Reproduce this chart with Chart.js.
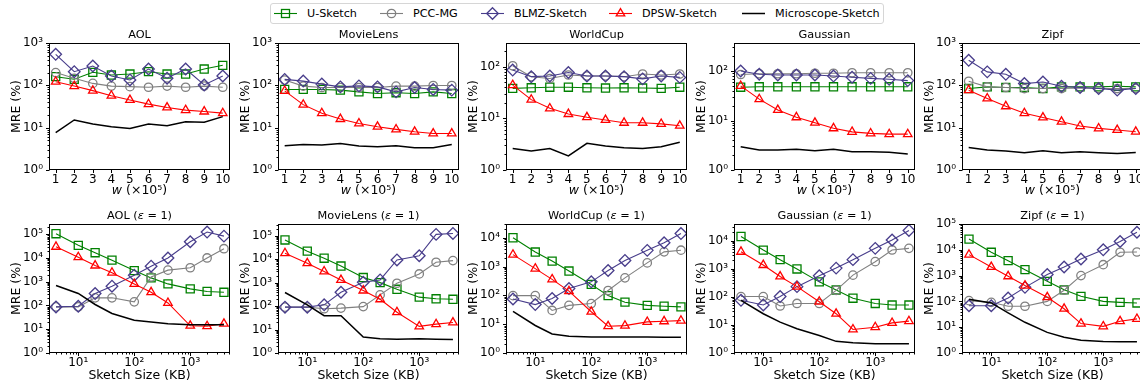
<!DOCTYPE html>
<html>
<head>
<meta charset="utf-8">
<title>MRE vs w and sketch size</title>
<script src="https://cdn.jsdelivr.net/npm/chart.js@4.4.1/dist/chart.umd.min.js"></script>
<style>
  html, body { margin: 0; padding: 0; background: #fff; }
  body { width: 1140px; height: 387px; overflow: hidden; position: relative; font-family: "DejaVu Sans", sans-serif; }
  .panel { position: absolute; }
  #legend { position: absolute; left: 270px; top: 3px; width: 614px; height: 21px; border: 1px solid #d6d6d6; border-radius: 3px; box-sizing: border-box; }
  .lg-item { position: absolute; top: 1px; height: 17px; display: flex; align-items: center; font-size: 11.2px; color: #000; white-space: nowrap; }
</style>
</head>
<body>
<div id="legend"></div>
<script>
// ---- data ----
const wValues  = [1, 2, 3, 4, 5, 6, 7, 8, 9, 10];                       // w (x10^5)
const sketchKB = [4, 10, 20, 40, 100, 200, 400, 1000, 2000, 4000];      // Sketch Size (KB)
const methodNames = ['U-Sketch', 'PCC-MG', 'BLMZ-Sketch', 'DPSW-Sketch', 'Microscope-Sketch'];

// top row: MRE (%) vs w
const aolW_U    = [160, 139, 203, 175, 185, 210, 185, 185, 243, 297];
const aolW_PCC  = [200, 147, 111, 96, 93, 90, 96, 90, 96, 90];
const aolW_BLMZ = [540, 210, 286, 166, 134, 243, 147, 243, 102, 166];
const aolW_DPSW = [122, 96, 75, 57, 45, 36, 30, 26, 24, 22];
const aolW_MS   = [7.6, 15.2, 12.2, 10.5, 9.6, 12.2, 11.1, 13.8, 13.4, 18.2];

const movW_U    = [80, 80, 80, 77, 70, 64, 67, 64, 70, 64];
const movW_PCC  = [133, 96, 89, 89, 89, 89, 96, 96, 99, 99];
const movW_BLMZ = [138, 126, 107, 92, 97, 92, 70, 89, 80, 77];
const movW_DPSW = [74, 35, 22, 16, 12.6, 10.5, 9.1, 8.0, 7.3, 7.3];
const movW_MS   = [3.75, 4.0, 3.9, 4.25, 3.7, 3.55, 3.75, 3.37, 3.37, 4.0];

const wcW_U     = [38, 39, 40, 40, 39, 38.6, 39, 38.6, 38, 40];
const wcW_PCC   = [104, 64, 59, 69, 66, 66, 64, 72, 69, 72];
const wcW_BLMZ  = [86, 64, 66, 77, 66, 66, 64, 58, 66, 62];
const wcW_DPSW  = [44, 23, 15.6, 12.1, 10.5, 9.3, 8.2, 8.2, 7.8, 7.2];
const wcW_MS    = [2.6, 2.33, 2.6, 1.87, 3.28, 2.9, 2.7, 2.6, 2.83, 3.43];

const gauW_U    = [47, 48, 48, 48, 48, 48, 48, 48, 48, 48];
const gauW_PCC  = [85, 88, 88, 88, 90, 90, 92, 92, 92, 92];
const gauW_BLMZ = [100, 86, 83, 83, 83, 79, 75, 71, 68, 64];
const gauW_DPSW = [50, 27, 16.3, 11.6, 9.0, 6.95, 5.9, 5.5, 5.3, 5.3];
const gauW_MS   = [2.96, 2.54, 2.54, 2.62, 2.45, 2.62, 2.34, 2.34, 2.28, 2.1];

const zipfW_U    = [84, 92, 89, 89, 84, 92, 92, 92, 95, 92];
const zipfW_PCC  = [125, 92, 89, 84, 84, 84, 87, 84, 84, 84];
const zipfW_BLMZ = [390, 208, 182, 110, 120, 95, 89, 84, 77, 84];
const zipfW_DPSW = [77, 49, 32, 22, 17.4, 13.8, 10.9, 9.6, 8.8, 8.0];
const zipfW_MS   = [3.4, 2.96, 2.8, 2.56, 2.86, 2.56, 2.7, 2.56, 2.47, 2.6];

// bottom row: MRE (%) vs sketch size, eps = 1
const aolS_U    = [105000, 34000, 16600, 8100, 2950, 1450, 810, 500, 390, 360];
const aolS_PCC  = [87, 87, 210, 210, 142, 1600, 3070, 3880, 10000, 24500];
const aolS_BLMZ = [87, 93, 318, 650, 1880, 4500, 10000, 48000, 123000, 83000];
const aolS_DPSW = [29500, 10800, 4800, 2400, 810, 360, 128, 14, 13.5, 17];
const aolS_MS   = [690, 320, 110, 46, 24, 20, 17, 15.5, 15.5, 15.5];

const movS_U    = [66000, 22000, 11000, 5100, 1650, 1000, 520, 240, 205, 195];
const movS_PCC  = [90, 90, 77, 82, 95, 300, 940, 2350, 7400, 8700];
const movS_BLMZ = [90, 90, 113, 390, 1040, 1300, 9300, 14000, 114000, 125000];
const movS_DPSW = [18000, 6700, 3000, 1300, 460, 195, 55, 13.6, 17, 20];
const movS_MS   = [380, 113, 39, 39, 4.8, 4.1, 3.9, 4.1, 3.9, 3.8];

const wcS_U     = [10000, 3200, 1550, 700, 240, 98, 58, 45, 42, 40];
const wcS_PCC   = [98, 98, 30, 45, 52, 147, 405, 1340, 3240, 3700];
const wcS_BLMZ  = [75, 48, 78, 173, 295, 730, 1630, 3650, 6700, 14000];
const wcS_DPSW  = [2600, 850, 360, 140, 27, 8.5, 8.9, 12, 12.6, 13.3];
const wcS_MS    = [28, 9, 4.6, 3.8, 3.6, 3.6, 3.6, 3.6, 3.5, 3.5];

const gauS_U    = [14000, 4600, 2100, 980, 340, 175, 89, 58, 51, 51];
const gauS_PCC  = [102, 102, 47, 58, 58, 170, 590, 1780, 4650, 5300];
const gauS_BLMZ = [75, 51, 102, 230, 560, 1050, 2100, 5300, 10500, 23000];
const gauS_DPSW = [4000, 1350, 530, 230, 67, 25, 6.9, 8.3, 11.8, 13.6];
const gauS_MS   = [75, 25, 12.5, 7.3, 4.2, 2.6, 2.3, 2.15, 2.15, 2.15];

const zipfS_U    = [26000, 8000, 3800, 1700, 600, 280, 157, 100, 92, 87];
const zipfS_PCC  = [107, 92, 65, 65, 100, 270, 1000, 2650, 8000, 8200];
const zipfS_BLMZ = [68, 68, 135, 350, 1100, 2150, 4400, 10000, 21000, 48000];
const zipfS_DPSW = [6500, 2150, 940, 410, 145, 52, 13.8, 10.8, 17, 21];
const zipfS_MS   = [120, 87, 36, 15.5, 6.3, 4.1, 3.1, 2.8, 2.7, 2.7];

// axis upper limits (y) per panel
const yMaxTop    = [1000, 1000, 287, 368, 1000];
const yMaxBottom = [269000, 316000, 30000, 39000, 100000];

// ---- styles ----
const FONT = '"DejaVu Sans"';
const STYLE = [
  { color: 'green',   point: 'rect',     r: 5.7, lw: 1.1 },
  { color: 'gray',    point: 'circle',   r: 4.2, lw: 1.1 },
  { color: '#483d8b', point: 'rectRot',  r: 5.8, lw: 1.1 },
  { color: 'red',     point: 'triangle', r: 4.9, lw: 1.1 },
  { color: 'black',   point: false,      r: 0,   lw: 1.5 }
];

// layout (px)
const PLOT_LEFT = [49, 278, 506, 734, 962];
const PLOT_W = 181;
const Y_W = 48, PAD_T = 16, PAD_R = 12;
const ROWS = [
  { top: 43,  h: 127, xH: 30, xTitleOff: 21 },
  { top: 224, h: 129, xH: 32, xTitleOff: 23 }
];

Chart.defaults.font.family = FONT;
Chart.defaults.color = '#000';

const SUP = { '0': '\u2070', '1': '\u00b9', '2': '\u00b2', '3': '\u00b3', '4': '\u2074', '5': '\u2075', '-': '\u207b' };
const pow10Label = v => '10' + String(Math.round(Math.log10(v))).split('').map(c => SUP[c]).join('');

function decadeTicks(s) {
  const out = [];
  for (let e = Math.ceil(Math.log10(s.min) - 1e-9); Math.pow(10, e) <= s.max * 1.0001; e++) out.push({ value: Math.pow(10, e) });
  s.ticks = out;
}
function logTickMarks(min, max) {
  const out = [];
  for (let e = Math.floor(Math.log10(min)); e <= Math.ceil(Math.log10(max)); e++) {
    for (let k = 1; k <= 9; k++) {
      const v = k * Math.pow(10, e);
      if (v >= min * 0.9999 && v <= max * 1.0001) out.push({ v, len: k === 1 ? 3.5 : 2 });
    }
  }
  return out;
}

function drawRich(ctx, segs, cx, cy, size) {
  const fonts = segs.map(([, it]) => `${it ? 'italic ' : ''}${size}px ${FONT}`);
  const widths = segs.map(([t], i) => { ctx.font = fonts[i]; return ctx.measureText(t).width; });
  let x = cx - widths.reduce((a, b) => a + b, 0) / 2;
  ctx.textBaseline = 'middle'; ctx.textAlign = 'left'; ctx.fillStyle = '#000';
  segs.forEach(([t], i) => { ctx.font = fonts[i]; ctx.fillText(t, x, cy); x += widths[i]; });
}

// frame, outward ticks, panel title and x-axis title
const panelDeco = {
  id: 'panelDeco',
  afterDraw(chart, args, opts) {
    const { ctx, chartArea: a, scales: { x, y } } = chart;
    const L = Math.round(a.left) + 0.5, R = Math.round(a.right) - 0.5;
    const T = Math.round(a.top) + 0.5, B = Math.round(a.bottom) - 0.5;
    ctx.save();
    ctx.strokeStyle = '#000'; ctx.lineWidth = 1;
    ctx.strokeRect(L, T, R - L, B - T);
    ctx.beginPath();
    logTickMarks(y.min, y.max).forEach(t => {
      const py = Math.round(y.getPixelForValue(t.v)) + 0.5;
      ctx.moveTo(L - t.len, py); ctx.lineTo(L, py);
    });
    const xMarks = x.type === 'logarithmic' ? logTickMarks(x.min, x.max) : wValues.map(v => ({ v, len: 3.5 }));
    xMarks.forEach(t => {
      const px = Math.round(x.getPixelForValue(t.v)) + 0.5;
      ctx.moveTo(px, B); ctx.lineTo(px, B + t.len);
    });
    ctx.stroke();
    const cx = (a.left + a.right) / 2;
    drawRich(ctx, opts.title, cx, a.top - 8, 11.3);
    drawRich(ctx, opts.xTitle, cx, a.bottom + opts.xTitleOff, 12.5);
    ctx.restore();
  }
};

function mkPanel(rowIdx, col, title, xs, series, yMax) {
  const row = ROWS[rowIdx];
  const div = document.createElement('div');
  div.className = 'panel';
  div.style.left = (PLOT_LEFT[col] - Y_W) + 'px';
  div.style.top = (row.top - PAD_T) + 'px';
  const cv = document.createElement('canvas');
  cv.width = Y_W + PLOT_W + PAD_R;
  cv.height = PAD_T + row.h + row.xH;
  div.appendChild(cv);
  document.body.appendChild(div);

  const tickFont = { family: FONT, size: 12 };
  const isTop = rowIdx === 0;
  const xScale = isTop
    ? { type: 'linear', min: 0.64, max: 10.39,
        afterBuildTicks: s => { s.ticks = wValues.map(v => ({ value: v })); },
        ticks: { padding: 3, font: tickFont, color: '#000', maxRotation: 0, autoSkip: false, callback: v => String(v) } }
    : { type: 'logarithmic', min: 3.0, max: 5130,
        afterBuildTicks: decadeTicks,
        ticks: { padding: 3, font: tickFont, color: '#000', maxRotation: 0, autoSkip: false, callback: pow10Label } };
  xScale.afterFit = s => { s.height = row.xH; };
  xScale.grid = { display: false, drawTicks: false };
  xScale.border = { display: false };

  const datasets = series.map((vals, i) => ({
    label: methodNames[i],
    data: xs.map((xv, j) => ({ x: xv, y: vals[j] })),
    borderColor: STYLE[i].color,
    borderWidth: STYLE[i].lw,
    pointStyle: STYLE[i].point,
    pointRadius: STYLE[i].r,
    pointBorderColor: STYLE[i].color,
    pointBackgroundColor: 'rgba(0,0,0,0)',
    pointBorderWidth: 1.3,
    tension: 0,
    order: 5 - i
  }));

  return new Chart(cv.getContext('2d'), {
    type: 'line',
    data: { datasets },
    options: {
      responsive: false, animation: false, devicePixelRatio: 1,
      layout: { padding: { top: PAD_T, right: PAD_R, left: 0, bottom: 0 } },
      plugins: {
        legend: { display: false }, tooltip: { enabled: false },
        panelDeco: {
          title,
          xTitle: isTop ? [['w', true], [' (\u00d710\u2075)', false]] : [['Sketch Size (KB)', false]],
          xTitleOff: row.xTitleOff
        }
      },
      scales: {
        x: xScale,
        y: {
          type: 'logarithmic', min: 1, max: yMax,
          afterBuildTicks: decadeTicks,
          afterFit: s => { s.width = Y_W; },
          grid: { display: false, drawTicks: false }, border: { display: false },
          ticks: { padding: 6, font: tickFont, color: '#000', autoSkip: false, callback: pow10Label },
          title: { display: true, text: 'MRE (%)', color: '#000', font: { family: FONT, size: 12.5 }, padding: { top: 8, bottom: 0 } }
        }
      }
    },
    plugins: [panelDeco]
  });
}

const eps = name => [[name + ' (', false], ['\u03b5', true], [' = 1)', false]];

mkPanel(0, 0, [['AOL', false]],       wValues, [aolW_U, aolW_PCC, aolW_BLMZ, aolW_DPSW, aolW_MS], yMaxTop[0]);
mkPanel(0, 1, [['MovieLens', false]], wValues, [movW_U, movW_PCC, movW_BLMZ, movW_DPSW, movW_MS], yMaxTop[1]);
mkPanel(0, 2, [['WorldCup', false]],  wValues, [wcW_U, wcW_PCC, wcW_BLMZ, wcW_DPSW, wcW_MS], yMaxTop[2]);
mkPanel(0, 3, [['Gaussian', false]],  wValues, [gauW_U, gauW_PCC, gauW_BLMZ, gauW_DPSW, gauW_MS], yMaxTop[3]);
mkPanel(0, 4, [['Zipf', false]],      wValues, [zipfW_U, zipfW_PCC, zipfW_BLMZ, zipfW_DPSW, zipfW_MS], yMaxTop[4]);

mkPanel(1, 0, eps('AOL'),       sketchKB, [aolS_U, aolS_PCC, aolS_BLMZ, aolS_DPSW, aolS_MS], yMaxBottom[0]);
mkPanel(1, 1, eps('MovieLens'), sketchKB, [movS_U, movS_PCC, movS_BLMZ, movS_DPSW, movS_MS], yMaxBottom[1]);
mkPanel(1, 2, eps('WorldCup'),  sketchKB, [wcS_U, wcS_PCC, wcS_BLMZ, wcS_DPSW, wcS_MS], yMaxBottom[2]);
mkPanel(1, 3, eps('Gaussian'),  sketchKB, [gauS_U, gauS_PCC, gauS_BLMZ, gauS_DPSW, gauS_MS], yMaxBottom[3]);
mkPanel(1, 4, eps('Zipf'),      sketchKB, [zipfS_U, zipfS_PCC, zipfS_BLMZ, zipfS_DPSW, zipfS_MS], yMaxBottom[4]);

// ---- shared legend ----
const LG_LINE_X = [274, 380, 481, 609, 742];
function legendIcon(st) {
  const c = st.color, cx = 11.5, cy = 8.5;
  let m = '';
  if (st.point === 'rect') m = `<rect x="${cx - 4}" y="${cy - 4}" width="8" height="8" fill="none" stroke="${c}" stroke-width="1.3"/>`;
  if (st.point === 'circle') m = `<circle cx="${cx}" cy="${cy}" r="4.2" fill="none" stroke="${c}" stroke-width="1.3"/>`;
  if (st.point === 'rectRot') m = `<polygon points="${cx},${cy - 5.8} ${cx + 5.8},${cy} ${cx},${cy + 5.8} ${cx - 5.8},${cy}" fill="none" stroke="${c}" stroke-width="1.3"/>`;
  if (st.point === 'triangle') m = `<polygon points="${cx},${cy - 4.9} ${cx + 4.24},${cy + 2.45} ${cx - 4.24},${cy + 2.45}" fill="none" stroke="${c}" stroke-width="1.3"/>`;
  return `<svg width="23" height="17" style="display:block"><line x1="0" y1="${cy}" x2="23" y2="${cy}" stroke="${c}" stroke-width="${st.lw}"/>${m}</svg>`;
}
const lg = document.getElementById('legend');
methodNames.forEach((name, i) => {
  const it = document.createElement('div');
  it.className = 'lg-item';
  it.style.left = (LG_LINE_X[i] - 271) + 'px';
  it.innerHTML = legendIcon(STYLE[i]) + `<span style="margin-left:10px">${name}</span>`;
  lg.appendChild(it);
});
</script>
</body>
</html>
